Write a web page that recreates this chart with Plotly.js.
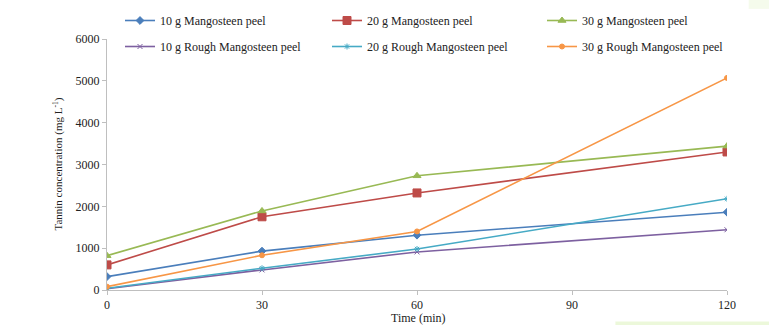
<!DOCTYPE html>
<html>
<head>
<meta charset="utf-8">
<script src="https://cdn.plot.ly/plotly-3.0.1.min.js"></script>
<style>html,body{margin:0;padding:0;background:#fff;}#chart{width:769px;height:325px;}</style>
</head>
<body>
<div id="chart"></div>
<script>
const timeMin = [0, 30, 60, 120];
const seriesNames = ["10 g Mangosteen peel", "20 g Mangosteen peel", "30 g Mangosteen peel",
                     "10 g Rough Mangosteen peel", "20 g Rough Mangosteen peel", "30 g Rough Mangosteen peel"];
const peel10 = [320, 930, 1310, 1860];
const peel20 = [600, 1750, 2320, 3300];
const peel30 = [820, 1890, 2730, 3440];
const rough10 = [30, 480, 910, 1440];
const rough20 = [40, 520, 980, 2180];
const rough30 = [80, 830, 1400, 5070];
const xTicks = [0, 30, 60, 90, 120];
const yTicks = [0, 1000, 2000, 3000, 4000, 5000, 6000];
const yTitle = "Tannin concentration (mg L<sup>-1</sup>)";
const xTitle = "Time (min)";

const seriesValues = [peel10, peel20, peel30, rough10, rough20, rough30];
const colors = ["#4a7ebb", "#be4b48", "#98b954", "#7d60a0", "#46aac5", "#f79646"];
const symbols = ["diamond", "square", "triangle-up", "x-thin-open", "asterisk-open", "circle"];
const sizes = [6, 8, 7, 5, 5, 5];
const legendIds = ["legend", "legend2", "legend3", "legend", "legend2", "legend3"];

const traces = seriesValues.map((v, i) => ({
  x: timeMin, y: v, name: seriesNames[i], type: "scatter", mode: "lines+markers",
  legend: legendIds[i], legendgroup: "g" + i,
  line: {color: colors[i], width: 1.6},
  marker: {symbol: symbols[i], size: sizes[i], color: colors[i], line: {color: colors[i], width: 1}}
}));

const font = {family: "Liberation Serif, Times New Roman, serif", color: "#222"};
function legendAt(px) {
  return {orientation: "v", xref: "container", yref: "container", x: px / 769, xanchor: "left",
          y: 1 - 6 / 325, yanchor: "top", itemwidth: 30, tracegroupgap: 7,
          font: Object.assign({size: 12}, font), bgcolor: "rgba(0,0,0,0)"};
}
const layout = {
  width: 769, height: 325,
  margin: {l: 107, r: 42, t: 39, b: 35, autoexpand: false},
  paper_bgcolor: "#fff", plot_bgcolor: "#fff",
  font: Object.assign({size: 12}, font),
  showlegend: true,
  legend: legendAt(120),
  legend2: legendAt(327),
  legend3: legendAt(542),
  xaxis: {range: [0, 120], tickvals: xTicks, ticktext: xTicks.map(String),
          showgrid: false, zeroline: false, showline: true, linecolor: "#bfbfbf", linewidth: 1,
          ticks: "outside", ticklen: 4, tickcolor: "#bfbfbf",
          tickfont: Object.assign({size: 12}, font)},
  yaxis: {range: [0, 6000], tickvals: yTicks, ticktext: yTicks.map(String),
          showgrid: false, zeroline: false, showline: true, linecolor: "#bfbfbf", linewidth: 1,
          ticks: "outside", ticklen: 4, tickcolor: "#bfbfbf",
          tickfont: Object.assign({size: 12}, font)},
  annotations: [
    {text: yTitle, xref: "paper", yref: "paper", x: -0.079, y: 0.5, xanchor: "center", yanchor: "middle",
     textangle: -90, showarrow: false, font: Object.assign({size: 11}, font)},
    {text: xTitle, xref: "paper", yref: "paper", x: 0.502, y: -0.112, xanchor: "center", yanchor: "middle",
     showarrow: false, font: Object.assign({size: 12}, font)}
  ],
  shapes: [
    {type: "rect", xref: "paper", yref: "paper", x0: 1.035, x1: 1.07, y0: 1.12, y1: 1.16,
     fillcolor: "rgba(215,240,180,0.25)", line: {width: 0}, layer: "below"},
    {type: "rect", xref: "paper", yref: "paper", x0: 0.82, x1: 1.07, y0: -0.14, y1: -0.125,
     fillcolor: "rgba(200,235,150,0.35)", line: {width: 0}, layer: "below"}
  ]
};
Plotly.newPlot("chart", traces, layout, {displayModeBar: false, staticPlot: true});
</script>
</body>
</html>
